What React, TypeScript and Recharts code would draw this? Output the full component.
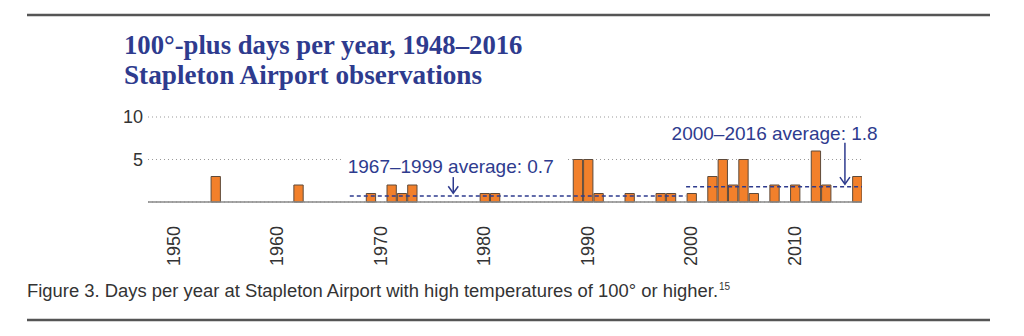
import React from 'react'
import { BarChart, Bar, XAxis, YAxis, CartesianGrid, ReferenceLine, ReferenceDot } from 'recharts'

// years with at least one 100° day (others are zero)
const years = [1954, 1962, 1969, 1971, 1972, 1973, 1980, 1981, 1989, 1990, 1991, 1994, 1997, 1998, 2000, 2002, 2003, 2004, 2005, 2006, 2008, 2010, 2012, 2013, 2016]
const days = [3, 2, 1, 2, 1, 2, 1, 1, 5, 5, 1, 1, 1, 1, 1, 3, 5, 2, 5, 1, 2, 2, 6, 2, 3]
const xTicks = [1950, 1960, 1970, 1980, 1990, 2000, 2010]
const yTicks = [5, 10]

const avgEarly = { from: 1967, to: 1999.5, value: 0.7, label: '1967–1999 average: 0.7' }
const avgLate = { from: 1999.5, to: 2016.5, value: 1.8, label: '2000–2016 average: 1.8' }

const BLUE = '#2e3b8e'
const data = years.map((year, i) => ({ year, days: days[i] }))

const XTick = ({ x, y, payload }: any) => (
  <text
    transform={`translate(${x + 6},${y + 16}) rotate(-90)`}
    textAnchor="end"
    fontSize={18}
    fill="#333"
    fontFamily="Liberation Sans, Arial, sans-serif"
  >
    {payload.value}
  </text>
)

const Note = ({ cx, cy, text, boxed }: any) => (
  <g>
    {boxed && <rect x={cx - 6} y={cy - 21} width={224} height={25} fill="#fff" />}
    <text x={cx} y={cy} fontSize={19} fill={BLUE} fontFamily="Liberation Sans, Arial, sans-serif">
      {text}
    </text>
  </g>
)

const Arrow = ({ x1, y1, x2, y2 }: any) => (
  <g stroke={BLUE} strokeWidth={1.5} fill="none">
    <line x1={x1} y1={y1} x2={x2} y2={y2} />
    <polyline points={`${x2 - 5},${y2 - 7} ${x2},${y2} ${x2 + 5},${y2 - 7}`} />
  </g>
)

export default function App() {
  return (
    <div style={{ position: 'absolute', left: 0, top: 0, width: 1024, height: 336, background: '#fff' }}>
      <BarChart width={1024} height={336} data={data} margin={{ top: 117, right: 162, left: 88, bottom: 84 }}>
        <CartesianGrid horizontal vertical={false} stroke="#999" strokeDasharray="1 3" />
        <XAxis
          dataKey="year"
          type="number"
          domain={[1947.5, 2016.5]}
          ticks={xTicks}
          tickLine={false}
          axisLine={{ stroke: '#888', strokeWidth: 1.5 }}
          tick={<XTick />}
          height={50}
          allowDataOverflow
        />
        <YAxis
          domain={[0, 10]}
          ticks={yTicks}
          width={60}
          axisLine={false}
          tickLine={false}
          tickSize={0}
          tickMargin={5}
          tick={{ fontSize: 18, fill: '#333', fontFamily: 'Liberation Sans, Arial, sans-serif' }}
        />
        <Bar dataKey="days" fill="#f2802b" stroke="#5e4a3a" strokeWidth={1} barSize={10.35} isAnimationActive={false} />
        <ReferenceDot x={1966.8} y={3.4} r={0} shape={(p: any) => <Note {...p} text={avgEarly.label} boxed />} />
        <ReferenceDot x={1998.1} y={7.3} r={0} shape={(p: any) => <Note {...p} text={avgLate.label} />} />
        <ReferenceLine
          segment={[{ x: avgEarly.from, y: avgEarly.value }, { x: avgEarly.to, y: avgEarly.value }]}
          stroke={BLUE}
          strokeWidth={1.5}
          strokeDasharray="4 3"
        />
        <ReferenceLine
          segment={[{ x: avgLate.from, y: avgLate.value }, { x: avgLate.to, y: avgLate.value }]}
          stroke={BLUE}
          strokeWidth={1.5}
          strokeDasharray="4 3"
        />
        <ReferenceLine segment={[{ x: 1977, y: 3.05 }, { x: 1977, y: 1.03 }]} shape={<Arrow />} />
        <ReferenceLine segment={[{ x: 2014.85, y: 6.97 }, { x: 2014.85, y: 2.1 }]} shape={<Arrow />} />
      </BarChart>
      <svg width={1024} height={336} style={{ position: 'absolute', left: 0, top: 0, pointerEvents: 'none' }}>
        <line x1={27} y1={15} x2={990} y2={15} stroke="#555" strokeWidth={2.5} />
        <text x={124} y={54} fontSize={26.7} fontWeight="bold" fill={BLUE} fontFamily="Liberation Serif, Times New Roman, serif">
          100°-plus days per year, 1948–2016
        </text>
        <text x={124} y={84} fontSize={27.2} fontWeight="bold" fill={BLUE} fontFamily="Liberation Serif, Times New Roman, serif">
          Stapleton Airport observations
        </text>
        <text
          x={27}
          y={297}
          fontSize={17.5}
          fill="#333"
          fontFamily="Liberation Sans, Arial, sans-serif"
          textLength={691}
          lengthAdjust="spacingAndGlyphs"
        >
          Figure 3. Days per year at Stapleton Airport with high temperatures of 100° or higher.
        </text>
        <text x={719} y={290} fontSize={10} fill="#333" fontFamily="Liberation Sans, Arial, sans-serif">
          15
        </text>
        <line x1={27} y1={320} x2={990} y2={320} stroke="#555" strokeWidth={2.5} />
      </svg>
    </div>
  )
}
